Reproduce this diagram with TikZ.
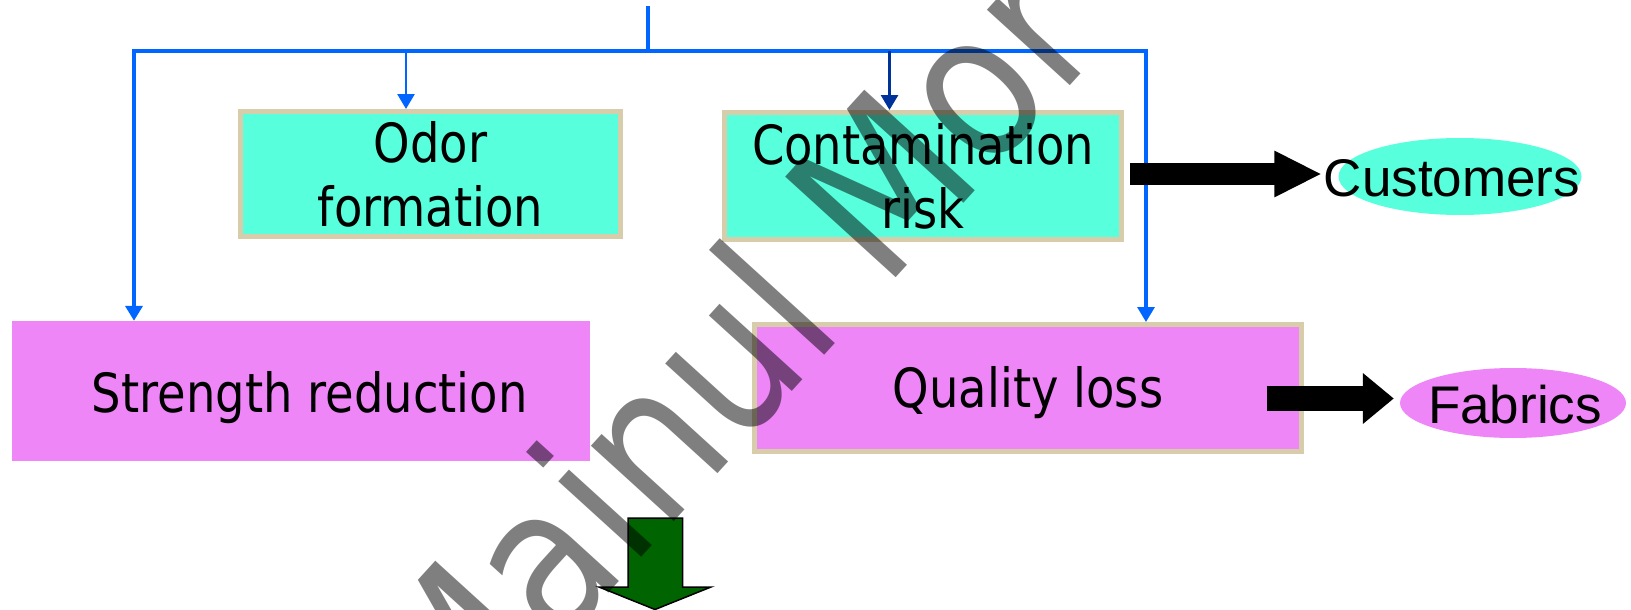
\documentclass[tikz,border=0pt]{standalone}
\usepackage{fontspec}
\usetikzlibrary{arrows.meta,shapes.geometric}
\newfontfamily\boxfont[FakeStretch=0.86]{DejaVu Sans}
\newfontfamily\ellfont{Liberation Sans}
\newfontfamily\wmfont[FakeStretch=0.86]{DejaVu Sans}
\definecolor{boxcyan}{RGB}{87,255,221}
\definecolor{boxviolet}{RGB}{238,134,248}
\definecolor{boxtan}{RGB}{215,205,170}
\definecolor{busblue}{RGB}{0,102,255}
\definecolor{navyblue}{RGB}{0,51,153}
\definecolor{darkgreen}{RGB}{0,100,0}
\begin{document}
\begin{tikzpicture}[x=1pt,y=-1pt,
  cbox/.style={draw=boxtan, line width=5pt, fill=boxcyan, inner sep=0pt, align=center,
    font={\boxfont\fontsize{54}{64}\selectfont}},
  vbox/.style={fill=boxviolet, inner sep=0pt, text depth=0pt,
    font={\boxfont\fontsize{54}{64}\selectfont}},
  ellnode/.style={ellipse, inner sep=0pt, text height=40pt, text depth=0pt,
    font={\ellfont\fontsize{53}{60}\selectfont}},
  bus/.style={busblue, line width=3.2pt},
  busarrow/.style={bus, -{Triangle[length=15pt,width=17pt]}},
  blockarrow/.style={draw=black, line width=22pt, -{Triangle[length=47.5pt,width=43pt]}},
  wmark/.style={rotate=47.7, anchor=base west, inner sep=0pt, text=black, text opacity=0.5,
    font={\wmfont\fontsize{205}{205}\selectfont}}
]
\useasboundingbox (0,0) rectangle (1631,610);

% boxes
\node[cbox, minimum width=380pt, minimum height=125pt] (odor) at (430.5,174) {Odor\\formation};
\node[cbox, minimum width=397pt, minimum height=127pt] (contam) at (923,176) {Contamination\\risk};
\node[vbox, minimum width=578.5pt, minimum height=140pt, text height=42pt] (strength) at (300.75,391) {\hspace*{18pt}Strength reduction};
\node[vbox, draw=boxtan, line width=5pt, minimum width=547pt, minimum height=127pt, text height=38pt] (quality) at (1028,388) {Quality loss};

% ellipses
\node[ellnode, fill=boxcyan, minimum width=243pt, minimum height=77pt] (cust) at (1460,176.5) {\makebox[0pt]{Customers\hspace*{16pt}}};
\node[ellnode, fill=boxviolet, minimum width=226pt, minimum height=70pt] (fab) at (1513,403) {\makebox[0pt]{\hspace*{4pt}Fabrics}};

% bus
\coordinate (top) at (648,6);
\coordinate (junc) at (648,51);
\coordinate (busL) at (134,51);
\coordinate (busR) at (1146,51);
\coordinate (bO) at (406,51);
\coordinate (bC) at (889.5,51);
\draw[bus] (top) -- (junc);
\draw[bus, line cap=rect] (busL) -- (busR);
\draw[busarrow, line width=4pt] (busL) -- (busL |- strength.north);
\draw[busarrow, line width=2.8pt] (bO) -- (bO |- odor.north);
\draw[busarrow, line width=2.8pt, navyblue] (bC) -- (bC |- contam.north);
\draw[busarrow] (busR) -- (busR |- quality.north);

% block arrows
\draw[blockarrow] ([shift={(6,-2)}]contam.east) -- ([shift={(-16.5,-2.5)}]cust.west);
\draw[blockarrow, line width=25pt, -{Triangle[length=31pt,width=49pt]}]
  ([shift={(-37.4,10.5)}]quality.east) -- ([shift={(-6,-4.5)}]fab.west);

% green down arrow
\draw[fill=darkgreen, line width=1.5pt, line join=miter]
  (628,518) -- (682.5,518) -- (682.5,587) -- (711,587) -- (655,609.5) -- (599,587) -- (628,587) -- cycle;

% watermark
\begin{scope}
  \clip (0,0) rectangle (1631,610);
  \node[wmark] (wm) at (455,762) {Mainul Mor};
\end{scope}
\end{tikzpicture}
\end{document}
